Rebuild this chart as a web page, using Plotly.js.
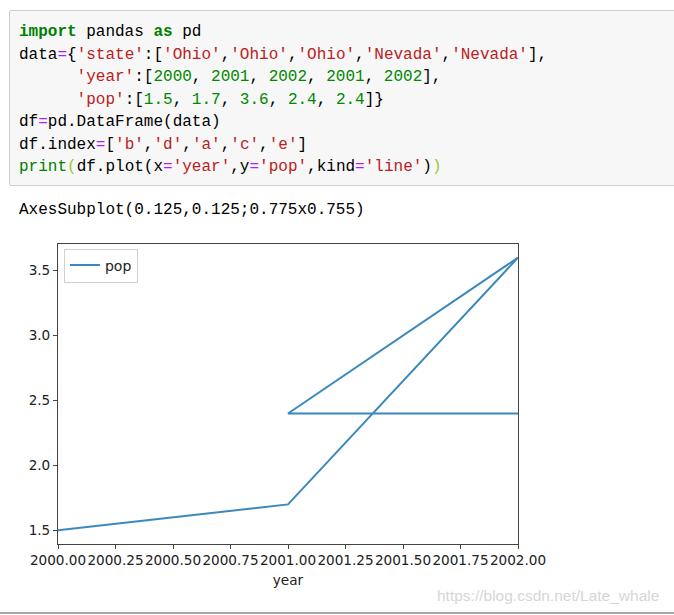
<!DOCTYPE html>
<html>
<head>
<meta charset="utf-8">
<script src="https://cdn.plot.ly/plotly-3.0.1.min.js"></script>
<style>
  html, body { margin:0; padding:0; background:#fff; width:674px; height:615px; overflow:hidden; position:relative; }
  #cell { position:absolute; left:9px; top:10px; width:680px; height:176px; background:#f7f7f7; border:1px solid #cfcfcf; border-radius:2px; box-sizing:border-box; }
  pre { margin:0; font-family:"Liberation Mono", "DejaVu Sans Mono", monospace; font-size:16px; line-height:22.5px; color:#000; }
  #code { position:absolute; left:19px; top:21px; }
  #out { position:absolute; left:19px; top:199px; }
  .k { color:#008000; font-weight:bold; }
  .b { color:#008000; }
  .s { color:#BA2121; }
  .n { color:#008800; }
  .o { color:#AA22FF; }
  .m { color:#99cc33; }
  #plot { position:absolute; left:0; top:0; width:674px; height:615px; }
  #wm { position:absolute; left:437px; top:587px; font-family:"Liberation Sans", Arial, sans-serif; font-size:15.5px; color:#d6d6d6; white-space:nowrap; }
  #rule { position:absolute; left:0; top:612px; width:674px; height:2px; background:#a8a8a8; }
</style>
</head>
<body>
<div id="cell"></div>
<pre id="code"><span class="k">import</span> pandas <span class="k">as</span> pd
data<span class="o">=</span>{<span class="s">'state'</span>:[<span class="s">'Ohio'</span>,<span class="s">'Ohio'</span>,<span class="s">'Ohio'</span>,<span class="s">'Nevada'</span>,<span class="s">'Nevada'</span>],
      <span class="s">'year'</span>:[<span class="n">2000</span>, <span class="n">2001</span>, <span class="n">2002</span>, <span class="n">2001</span>, <span class="n">2002</span>],
      <span class="s">'pop'</span>:[<span class="n">1.5</span>, <span class="n">1.7</span>, <span class="n">3.6</span>, <span class="n">2.4</span>, <span class="n">2.4</span>]}
df<span class="o">=</span>pd.DataFrame(data)
df.index<span class="o">=</span>[<span class="s">'b'</span>,<span class="s">'d'</span>,<span class="s">'a'</span>,<span class="s">'c'</span>,<span class="s">'e'</span>]
<span class="b">print</span><span class="m">(</span>df.plot(x<span class="o">=</span><span class="s">'year'</span>,y<span class="o">=</span><span class="s">'pop'</span>,kind<span class="o">=</span><span class="s">'line'</span>)<span class="m">)</span></pre>
<pre id="out">AxesSubplot(0.125,0.125;0.775x0.755)</pre>
<div id="plot"></div>
<div id="wm">https://blog.csdn.net/Late_whale</div>
<div id="rule"></div>
<script>
const years = [2000, 2001, 2002, 2001, 2002];
const pop = [1.5, 1.7, 3.6, 2.4, 2.4];
const seriesName = 'pop';
const xTicks = [2000.00, 2000.25, 2000.50, 2000.75, 2001.00, 2001.25, 2001.50, 2001.75, 2002.00];
const yTicks = [1.5, 2.0, 2.5, 3.0, 3.5];
const xLabel = 'year';

const font = {family: 'DejaVu Sans, sans-serif', size: 13.6, color: '#222'};
const axisCommon = {
  showline: true, linecolor: '#444', linewidth: 1, mirror: true,
  ticks: 'outside', ticklen: 4, tickwidth: 1, tickcolor: '#444',
  showgrid: false, zeroline: false, tickfont: font, fixedrange: true
};

Plotly.newPlot('plot', [{
  x: years, y: pop, name: seriesName, type: 'scatter', mode: 'lines',
  line: {color: '#1f77b4', width: 2}, opacity: 0.88
}], {
  width: 674, height: 615,
  paper_bgcolor: 'rgba(0,0,0,0)', plot_bgcolor: '#fff',
  margin: {l: 58, r: 156, t: 244, b: 71, pad: 0},
  showlegend: true,
  legend: {x: 0.013, y: 0.985, xanchor: 'left', yanchor: 'top', bgcolor: '#fff',
           bordercolor: '#d0d0d0', borderwidth: 1,
           font: {family: 'DejaVu Sans, sans-serif', size: 14, color: '#222'}, itemwidth: 30},
  xaxis: Object.assign({}, axisCommon, {
    range: [2000, 2002], tickvals: xTicks, tickformat: '.2f', tickangle: 0,
    title: {text: xLabel, font: font, standoff: 8}
  }),
  yaxis: Object.assign({}, axisCommon, {
    range: [1.395, 3.705], tickvals: yTicks, tickformat: '.1f'
  }),
  font: font
}, {displayModeBar: false, staticPlot: true});
</script>
</body>
</html>
